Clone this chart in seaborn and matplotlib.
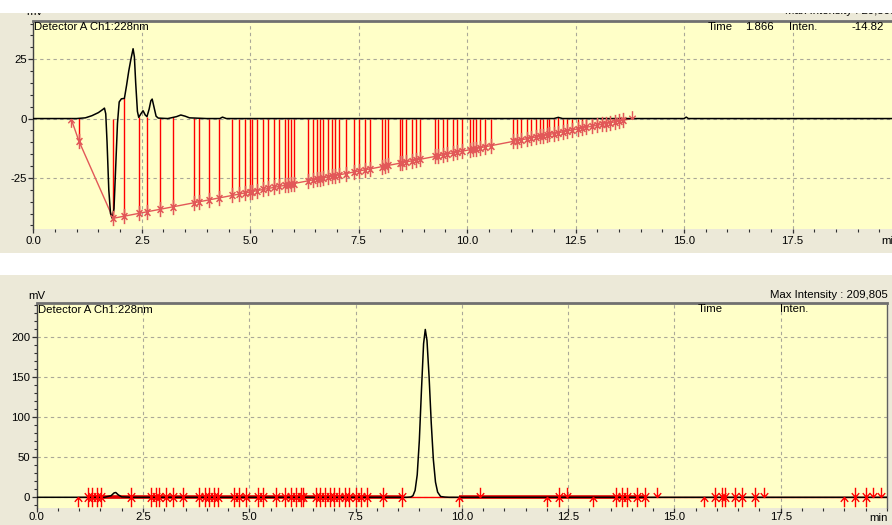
import numpy as np
import matplotlib
matplotlib.use("Agg")
import matplotlib.pyplot as plt
import seaborn as sns
import pandas as pd
from matplotlib.path import Path
from matplotlib.patches import Rectangle
from matplotlib.ticker import MultipleLocator, FixedLocator

sns.set_theme(style="white")
plt.rcParams['font.family'] = ['Liberation Sans', 'DejaVu Sans']

# ---------------- data: top chromatogram ----------------
top_t = [0.0, 1.0, 1.2, 1.35, 1.5, 1.6, 1.64, 1.67, 1.70, 1.74, 1.78, 1.82, 1.86, 1.90,
         1.94, 1.98, 2.03, 2.10, 2.15, 2.20, 2.25, 2.30, 2.33, 2.36, 2.40, 2.43, 2.48,
         2.53, 2.58, 2.62, 2.67, 2.71, 2.74, 2.78, 2.83, 2.88, 3.1, 3.3, 3.4, 3.5, 3.6,
         4.0, 4.3, 4.36, 4.45, 12.0, 12.1, 12.2, 15.0, 15.05, 15.1, 20.0]
top_mv = [0.0, 0.0, 0.3, 1.2, 2.5, 3.8, 4.4, 2.0, -10.0, -30.0, -40.0, -42.0, -38.0, -20.0,
          -2.0, 7.0, 8.3, 8.5, 14.0, 20.0, 25.0, 29.4, 26.0, 15.0, 3.0, 0.5, 2.0,
          3.3, 1.5, 0.8, 4.0, 7.5, 8.2, 5.0, 1.0, 0.2, 0.0, 0.8, 1.5, 1.0, 0.3,
          0.0, 0.0, 0.6, 0.0, 0.0, 0.5, 0.0, 0.0, 0.6, 0.0, 0.0]

top_base_t = [0.87, 1.05, 1.84, 13.8]
top_base_mv = [0.0, -9.4, -42.0, 0.0]

top_cut_t = [1.05, 1.84, 2.09, 2.43, 2.62, 2.92, 3.23, 3.70, 3.82, 4.05, 4.28, 4.59, 4.75,
             4.87, 4.99, 5.05, 5.16, 5.30, 5.42, 5.55, 5.67, 5.80, 5.88, 5.95, 6.01, 6.34,
             6.45, 6.53, 6.61, 6.68, 6.80, 6.88, 6.95, 7.04, 7.21, 7.39, 7.51, 7.64, 7.76,
             8.03, 8.10, 8.18, 8.45, 8.50, 8.59, 8.74, 8.82, 8.91, 9.26, 9.33, 9.45, 9.53,
             9.68, 9.76, 9.87, 10.06, 10.14, 10.20, 10.29, 10.41, 10.56, 11.06, 11.15, 11.25,
             11.37, 11.48, 11.58, 11.68, 11.75, 11.83, 11.89, 12.0, 12.1, 12.2, 12.3, 12.42,
             12.55, 12.65, 12.75, 12.88, 13.0, 13.1, 13.2, 13.3, 13.4, 13.5, 13.6]
top_start_t = [0.87]
top_end_t = [13.8]

# ---------------- data: bottom chromatogram ----------------
bot_t = [0.0, 1.6, 1.75, 1.82, 1.86, 1.92, 2.0, 2.2, 8.6, 8.70, 8.80, 8.85, 8.90, 8.95,
         9.00, 9.05, 9.10, 9.14, 9.18, 9.23, 9.28, 9.33, 9.38, 9.43, 9.50, 9.60, 9.70, 20.0]
bot_mv = [0.0, 0.0, 2.0, 5.5, 6.0, 3.0, 0.5, 0.0, 0.0, 0.0, 0.4, 2.0, 8.6, 28.0,
          71.0, 134.0, 192.0, 209.8, 196.0, 150.0, 93.0, 47.0, 19.0, 6.5, 1.0, 0.3, 0.0, 0.0]

bot_both_t = [1.21, 1.31, 1.41, 1.52, 2.21, 2.68, 2.80, 2.88, 3.05, 3.21, 3.43, 3.82, 3.95,
              4.05, 4.16, 4.26, 4.65, 4.77, 4.93, 5.20, 5.32, 5.63, 5.85, 5.99, 6.10, 6.22,
              6.27, 6.56, 6.67, 6.77, 6.89, 7.00, 7.12, 7.24, 7.35, 7.50, 7.63, 7.78, 8.14,
              8.59, 12.29, 13.62, 13.76, 13.89, 14.12, 14.30, 15.95, 16.12, 16.20, 16.42,
              16.60, 16.90, 19.25, 19.50]
bot_up_t = [0.98, 9.94, 12.01, 13.08, 15.70, 19.00]
bot_down_t = [10.42, 12.47, 14.59, 17.10, 19.68, 19.87]
bot_base_start = [0.98]
bot_base_end = [20.0]
bot_thick_start = [1.21, 9.94]
bot_thick_end = [8.59, 14.30]

x_ticks = [0.0, 2.5, 5.0, 7.5, 10.0, 12.5, 15.0, 17.5]
x_labels = ["0.0", "2.5", "5.0", "7.5", "10.0", "12.5", "15.0", "17.5"]
top_y_ticks = [-25, 0, 25]
bot_y_ticks = [0, 50, 100, 150, 200]

# ---------------- styling ----------------
W, H = 892, 525
BEIGE = "#ece9d8"
PLOT_BG = "#ffffc8"
GRID = "#aaa898"
RED = "#ff0000"
SALMON = "#e25858"
TXT = "#000000"
FS = 8.2

def fx(x):
    return x / W

def fy(y):
    return 1 - y / H

def arrow_path(kind):
    M, L = Path.MOVETO, Path.LINETO
    down = [(0, 0), (0, 1), (-0.38, 0.45), (0, 0), (0.38, 0.45)]
    up = [(x, -y) for x, y in down]
    codes = [M, L, M, L, L]
    if kind == "down":
        return Path(down, codes)
    if kind == "up":
        return Path(up, codes)
    return Path(down + up, codes + codes)

fig = plt.figure(figsize=(W / 100, H / 100), dpi=100)
fig.patch.set_facecolor("white")
fig.add_artist(Rectangle((0, fy(252.7)), 1, fy(12.5) - fy(252.7), transform=fig.transFigure,
                         facecolor=BEIGE, edgecolor="none", zorder=-5))
fig.add_artist(Rectangle((0, 0), 1, fy(275), transform=fig.transFigure,
                         facecolor=BEIGE, edgecolor="none", zorder=-5))

ax1 = fig.add_axes([fx(33.3), fy(229), fx(867.7), (229 - 20.7) / H])
ax2 = fig.add_axes([fx(36.7), fy(508.3), fx(850.3), (508.3 - 303.3) / H])


def style_axes(ax, ylim, yticks, minor_y, xpad):
    ax.set_facecolor(PLOT_BG)
    ax.set_xlim(0, 20)
    ax.set_ylim(*ylim)
    ax.xaxis.set_major_locator(FixedLocator(x_ticks))
    ax.set_xticklabels(x_labels)
    ax.xaxis.set_minor_locator(MultipleLocator(0.5))
    ax.yaxis.set_major_locator(FixedLocator(yticks))
    ax.set_yticklabels([str(v) for v in yticks])
    ax.yaxis.set_minor_locator(MultipleLocator(minor_y))
    ax.tick_params(axis="y", which="major", direction="out", length=3.6, width=0.9,
                   color="#303030", labelsize=FS, labelcolor=TXT, pad=1.0, left=True)
    ax.tick_params(axis="y", which="minor", direction="out", length=2.2, width=0.8,
                   color="#303030", left=True)
    ax.tick_params(axis="x", which="major", direction="out", length=2.6, width=0.9,
                   color="#303030", labelsize=FS, labelcolor=TXT, pad=xpad, bottom=True)
    ax.tick_params(axis="x", which="minor", direction="out", length=2.0, width=0.8,
                   color="#303030", bottom=True)
    ax.grid(True, which="major", color=GRID, linestyle=(0, (3, 3)), linewidth=0.8)
    ax.set_axisbelow(True)
    ax.spines["top"].set_color("#707070")
    ax.spines["top"].set_linewidth(2.0)
    ax.spines["left"].set_color("#404040")
    ax.spines["left"].set_linewidth(1.0)
    ax.spines["right"].set_color("#606060")
    ax.spines["right"].set_linewidth(1.0)
    ax.spines["bottom"].set_visible(False)
    ax.set_xlabel("")
    ax.set_ylabel("")


# ---------------- top panel ----------------
top_df = pd.DataFrame({"t": top_t, "mv": top_mv})
base_df = pd.DataFrame({"t": top_base_t, "mv": top_base_mv})
cut_t = np.array(top_cut_t)
cut_base = np.interp(cut_t, top_base_t, top_base_mv)
cut_sig = np.maximum(np.interp(cut_t, top_t, top_mv), 0.0)

ax1.vlines(cut_t, cut_base, cut_sig, colors=RED, linewidth=1.0, zorder=3)
sns.lineplot(data=base_df, x="t", y="mv", ax=ax1, color=SALMON, linewidth=1.0,
             estimator=None, sort=False, zorder=4)
sns.lineplot(data=top_df, x="t", y="mv", ax=ax1, color="black", linewidth=1.1,
             estimator=None, sort=False, zorder=5)
ax1.plot(cut_t, cut_base, linestyle="none", marker=arrow_path("both"), markersize=11,
         mfc="none", mec=SALMON, mew=1.1, zorder=6)
ax1.plot(top_start_t, np.interp(top_start_t, top_base_t, top_base_mv), linestyle="none",
         marker=arrow_path("up"), markersize=12, mfc="none", mec=SALMON, mew=1.0, zorder=6)
ax1.plot(top_end_t, np.interp(top_end_t, top_base_t, top_base_mv), linestyle="none",
         marker=arrow_path("down"), markersize=12, mfc="none", mec=SALMON, mew=1.0, zorder=6)
style_axes(ax1, (-46.5, 41.2), top_y_ticks, 5, 2.6)

# ---------------- bottom panel ----------------
bot_df = pd.DataFrame({"t": bot_t, "mv": bot_mv})
ax2.hlines([0] * len(bot_base_start), bot_base_start, bot_base_end, colors=RED,
           linewidth=1.0, zorder=3)
ax2.hlines([0] * len(bot_thick_start), bot_thick_start, bot_thick_end, colors="#e00000",
           linewidth=2.6, zorder=3)
sns.lineplot(data=bot_df, x="t", y="mv", ax=ax2, color="black", linewidth=1.1,
             estimator=None, sort=False, zorder=4)
ax2.plot(bot_both_t, np.zeros(len(bot_both_t)), linestyle="none",
         marker=arrow_path("both"), markersize=14, mfc="none", mec=RED, mew=1.0, zorder=6)
ax2.plot(bot_up_t, np.zeros(len(bot_up_t)), linestyle="none",
         marker=arrow_path("up"), markersize=14, mfc="none", mec=RED, mew=1.0, zorder=6)
ax2.plot(bot_down_t, np.zeros(len(bot_down_t)), linestyle="none",
         marker=arrow_path("down"), markersize=14, mfc="none", mec=RED, mew=1.0, zorder=6)
style_axes(ax2, (-13.75, 242.5), bot_y_ticks, 10, 0.3)

# ---------------- texts ----------------
def ftext(x, y, s, ha="left"):
    fig.text(fx(x), fy(y), s, ha=ha, va="center", fontsize=FS, color=TXT, zorder=3)

ftext(26, 12, "mV")
ftext(785, 11.5, "Max Intensity : 29,505")
ftext(34, 27, "Detector A Ch1:228nm")
ftext(708, 27, "Time")
ftext(745, 27, "1.866")
ftext(789, 27, "Inten.")
ftext(884, 27, "-14.82", ha="right")
ftext(881, 241, "min")

ftext(28, 296, "mV")
ftext(888, 295, "Max Intensity : 209,805", ha="right")
ftext(37.5, 310, "Detector A Ch1:228nm")
ftext(698, 309, "Time")
ftext(780, 309, "Inten.")
ftext(869, 518, "min")

# white strip cropping the top of the screenshot
fig.add_artist(Rectangle((0, fy(12.5)), 1, 1 - fy(12.5), transform=fig.transFigure,
                         facecolor="white", edgecolor="none", zorder=20))

fig.savefig("out.png", dpi=100, facecolor=fig.get_facecolor())
